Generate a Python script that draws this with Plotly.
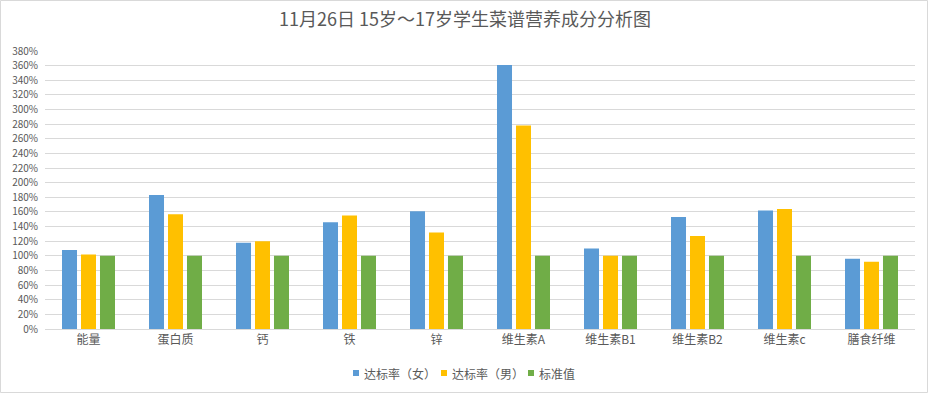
import plotly.graph_objects as go

categories = ["能量", "蛋白质", "钙", "铁", "锌", "维生素A", "维生素B1", "维生素B2", "维生素c", "膳食纤维"]
female = [1.08, 1.83, 1.18, 1.46, 1.61, 3.61, 1.10, 1.53, 1.62, 0.96]
male = [1.02, 1.57, 1.20, 1.55, 1.32, 2.78, 1.00, 1.27, 1.64, 0.92]
standard = [1.00, 1.00, 1.00, 1.00, 1.00, 1.00, 1.00, 1.00, 1.00, 1.00]
series_names = ["达标率（女）", "达标率（男）", "标准值"]
colors = ["#5B9BD5", "#FFC000", "#70AD47"]

tickvals = [i / 100 for i in range(0, 400, 20)]
ticktext = [f"{i}%" for i in range(0, 400, 20)]

W, H = 930, 394
ML, MR, MT, MB = 45, 15, 51, 65
PW, PH = W - ML - MR, H - MT - MB

def px_x(x):
    return (x - ML) / PW

def px_y(y):
    return (H - MB - y) / PH

font_family = "Noto Sans CJK SC, Noto Sans, sans-serif"
fig = go.Figure()
for name, vals, c in zip(series_names, [female, male, standard], colors):
    fig.add_trace(go.Bar(x=categories, y=vals, name=name, showlegend=False,
                         marker=dict(color=c, line=dict(width=0))))

# custom legend (square + text), compact like the reference
legend_sq_x = [353, 441, 528]
shapes = [dict(type="rect", xref="paper", yref="paper", x0=px_x(0.5), x1=px_x(W - 2.5),
               y0=px_y(H - 1.5), y1=px_y(0.5), line=dict(color="#d9d9d9", width=1),
               fillcolor="rgba(0,0,0,0)")]
annotations = []
for name, c, sx in zip(series_names, colors, legend_sq_x):
    shapes.append(dict(type="rect", xref="paper", yref="paper", x0=px_x(sx), x1=px_x(sx + 6),
                       y0=px_y(376), y1=px_y(370), line=dict(width=0), fillcolor=c))
    annotations.append(dict(text=name, xref="paper", yref="paper", x=px_x(sx + 9), y=px_y(373),
                            xanchor="left", yanchor="middle", showarrow=False,
                            font=dict(size=12, color="#595959", family=font_family)))

fig.update_layout(
    width=W, height=H,
    paper_bgcolor="white", plot_bgcolor="white",
    barmode="group", bargap=0.345, bargroupgap=0.21,
    showlegend=False,
    margin=dict(l=ML, r=MR, t=MT, b=MB, autoexpand=False),
    title=dict(text="11月26日 15岁～17岁学生菜谱营养成分分析图", x=0.5, xanchor="center",
               y=1 - 20 / H, yanchor="middle",
               font=dict(family=font_family, size=18, color="#595959")),
    font=dict(family=font_family, color="#595959"),
    xaxis=dict(showline=True, linecolor="#d9d9d9", linewidth=1, tickfont=dict(size=12, color="#595959"),
               ticks="", showgrid=False),
    yaxis=dict(range=[0, 3.8], tickvals=tickvals, ticktext=ticktext, showgrid=True, gridcolor="#d9d9d9",
               gridwidth=1, zeroline=False, showline=False, tickfont=dict(size=10, color="#595959"),
               ticklabelstandoff=6),
    shapes=shapes,
    annotations=annotations,
)

fig.write_html("out.html", config={"displayModeBar": False},
               post_script="document.body.style.margin='0px';document.body.style.overflow='hidden';")
